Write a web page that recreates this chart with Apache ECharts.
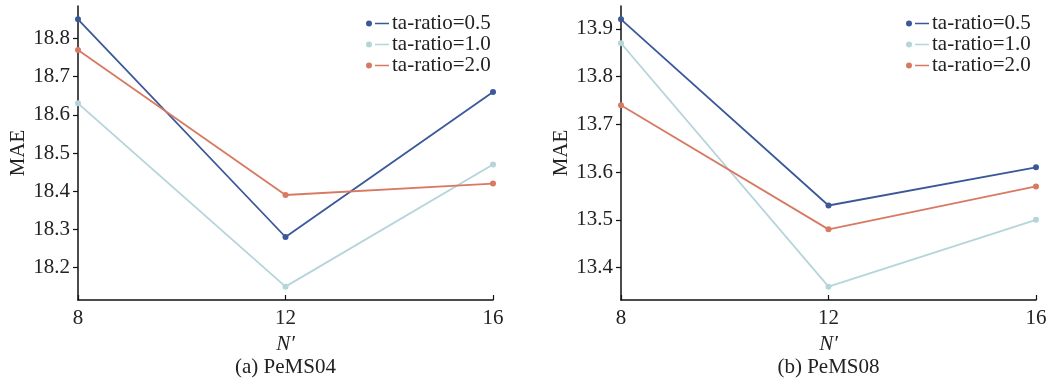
<!DOCTYPE html>
<html>
<head>
<meta charset="utf-8">
<script src="https://cdn.jsdelivr.net/npm/echarts@6/dist/echarts.min.js"></script>
<style>html,body{margin:0;padding:0;background:#fff}#c{width:1050px;height:385px}</style>
</head>
<body>
<div id="c"></div>
<script>
const xValues = [8, 12, 16];
const seriesNames = ['ta-ratio=0.5', 'ta-ratio=1.0', 'ta-ratio=2.0'];
const pems04_r05 = [18.85, 18.28, 18.66];
const pems04_r10 = [18.63, 18.15, 18.47];
const pems04_r20 = [18.77, 18.39, 18.42];
const pems08_r05 = [13.92, 13.53, 13.61];
const pems08_r10 = [13.87, 13.36, 13.50];
const pems08_r20 = [13.74, 13.48, 13.57];
const xTicks = [8, 12, 16];
const yTicks04 = [18.2, 18.3, 18.4, 18.5, 18.6, 18.7, 18.8];
const yTicks08 = [13.4, 13.5, 13.6, 13.7, 13.8, 13.9];
const yRange04 = [18.115, 18.885];
const yRange08 = [13.332, 13.948];
const titles = ['(a) PeMS04', '(b) PeMS08'];

const colors = ['#3b5899', '#b5d5db', '#d87a62'];
const FONT = '"Liberation Serif", "DejaVu Serif", serif';
const FS = 21;
const grids = [
  { left: 78, top: 6, width: 415, height: 294 },
  { left: 621, top: 6, width: 415, height: 294 }
];
const icon = 'path://M0,3 A3,3 0 1,0 6,3 A3,3 0 1,0 0,3 Z M9,2.2 L23,2.2 L23,3.8 L9,3.8 Z';

function xAxis(i) {
  return {
    type: 'value', gridIndex: i, min: 8, max: 16, interval: 4,
    name: 'N\u2032', nameLocation: 'middle', nameGap: 30,
    nameTextStyle: { fontFamily: FONT, fontSize: FS, fontStyle: 'italic', color: '#222' },
    axisLine: { show: true, onZero: false, lineStyle: { color: '#111', width: 1.5 } },
    axisTick: { show: true, inside: true, length: 5, lineStyle: { color: '#111', width: 1.2 }, customValues: xTicks },
    axisLabel: { fontFamily: FONT, fontSize: FS, color: '#222', margin: 8, customValues: xTicks },
    splitLine: { show: false }
  };
}
function yAxis(i, range, ticks) {
  return {
    type: 'value', gridIndex: i, min: range[0], max: range[1],
    name: 'MAE', nameLocation: 'middle', nameGap: 49, nameRotate: 90,
    nameTextStyle: { fontFamily: FONT, fontSize: FS, color: '#222' },
    axisLine: { show: true, onZero: false, lineStyle: { color: '#111', width: 1.5 } },
    axisTick: { show: true, inside: false, length: 5, lineStyle: { color: '#111', width: 1.2 }, customValues: ticks },
    axisLabel: { fontFamily: FONT, fontSize: FS, color: '#222', margin: 8, customValues: ticks,
      formatter: v => v.toFixed(1) },
    splitLine: { show: false }
  };
}
function line(name, data, i, c) {
  return {
    type: 'line', name: name, xAxisIndex: i, yAxisIndex: i,
    data: xValues.map((x, k) => [x, data[k]]),
    symbol: 'circle', symbolSize: 6, showSymbol: true,
    lineStyle: { color: colors[c], width: 1.8 },
    itemStyle: { color: colors[c] },
    emphasis: { disabled: true }
  };
}
function legend(left) {
  return {
    orient: 'vertical', left: left, top: 13, itemGap: 0, padding: 0,
    itemWidth: 23, itemHeight: 6, icon: icon,
    textStyle: { fontFamily: FONT, fontSize: FS, color: '#222', lineHeight: 20.7, padding: [0, 0, 0, -2] },
    data: seriesNames
  };
}

const chart = echarts.init(document.getElementById('c'), null, { renderer: 'canvas' });
chart.setOption({
  animation: false,
  backgroundColor: '#fff',
  grid: grids,
  title: [
    { text: titles[0], left: 285.5, top: 357, textAlign: 'center', padding: 0,
      textStyle: { fontFamily: FONT, fontSize: FS, fontWeight: 'normal', color: '#222' } },
    { text: titles[1], left: 828.5, top: 357, textAlign: 'center', padding: 0,
      textStyle: { fontFamily: FONT, fontSize: FS, fontWeight: 'normal', color: '#222' } }
  ],
  legend: [legend(366), legend(906)],
  xAxis: [xAxis(0), xAxis(1)],
  yAxis: [yAxis(0, yRange04, yTicks04), yAxis(1, yRange08, yTicks08)],
  series: [
    line(seriesNames[0], pems04_r05, 0, 0),
    line(seriesNames[1], pems04_r10, 0, 1),
    line(seriesNames[2], pems04_r20, 0, 2),
    line(seriesNames[0], pems08_r05, 1, 0),
    line(seriesNames[1], pems08_r10, 1, 1),
    line(seriesNames[2], pems08_r20, 1, 2)
  ]
});
</script>
</body>
</html>
